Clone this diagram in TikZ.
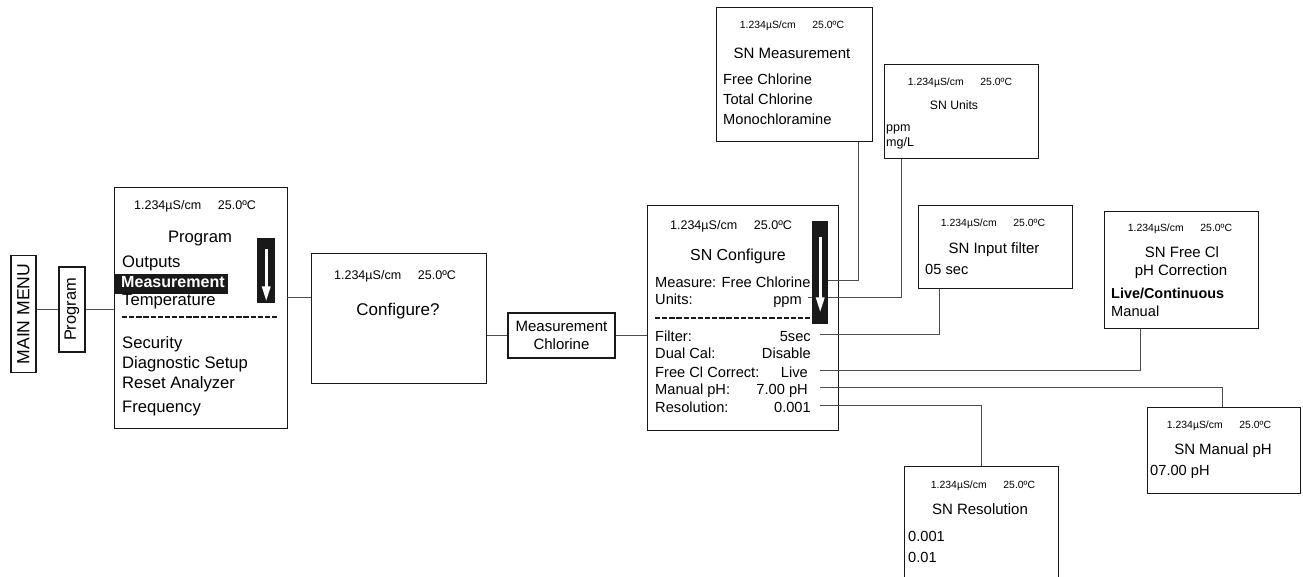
\documentclass[tikz,border=0pt]{standalone}
\usepackage{fontspec}
\setmainfont{Liberation Sans}
\usetikzlibrary{arrows.meta,calc}

\newcommand{\rdg}{1.234µS/cm\hspace{0.5cm}25.0ºC}

\begin{document}
\begin{tikzpicture}[x=0.03cm,y=-0.03cm,>=Stealth,
    screen/.style={draw=black!90,line width=1.1pt,inner sep=0pt,anchor=north west},
    tabbox/.style={draw=black!90,line width=1pt,inner sep=0pt,align=center},
    wire/.style={draw=black!70,line width=0.8pt},
    rdgL/.style={inner sep=0pt,anchor=base,font=\fontsize{10.7}{12}\selectfont},
    rdgS/.style={inner sep=0pt,anchor=base,font=\fontsize{8.9}{10}\selectfont},
    ttl/.style={inner sep=0pt,anchor=base,font=\fontsize{12.8}{15}\selectfont},
    itm/.style={inner sep=0pt,anchor=base west,text height=11pt,text depth=0pt,font=\fontsize{12.5}{15}\selectfont},
    val/.style={itm,anchor=base east},
    bigitm/.style={itm,font=\fontsize{14.2}{17}\selectfont},
    dashsep/.style={draw=black!90,line width=1.5pt,dash pattern=on 4.5pt off 1.6pt},
    scrollbar/.style={fill=black!90,inner sep=0pt,anchor=north west},
    scrollarrow/.style={draw=white,line width=2.6pt,-{Triangle[length=12.8pt,width=6.8pt]}}]
\useasboundingbox (0,0) rectangle (1303,576);

% === Left: menu tabs ===
\node[tabbox,rotate=90,minimum width=3.51cm,minimum height=0.75cm,font=\fontsize{15}{18}\selectfont] (mainmenu) at (23.5,314) {MAIN MENU};
\node[tabbox,rotate=90,minimum width=2.55cm,minimum height=0.78cm,font=\fontsize{14}{17}\selectfont] (progtab) at (72,309.5) {Program};

% === Program screen ===
\begin{scope}[shift={(114,187)}]
    \node[screen,minimum width=5.19cm,minimum height=7.23cm] (prog) at (0,0) {};
    \node[rdgL] (prog-rdg) at (81,22) {\rdg};
    \node[ttl,font=\fontsize{14.2}{17}\selectfont] (prog-ttl) at (86,55) {Program};
    \node[bigitm] (prog-out) at (8,80) {Outputs};
    \fill[black!90] (0,87) rectangle (114,107);
    \node[bigitm,white,font=\fontsize{13.7}{16}\selectfont\bfseries] (prog-meas) at (7,100) {Measurement};
    \node[bigitm] (prog-temp) at (8,118) {Temperature};
    \draw[dashsep] (8,130) -- (163,130);
    \node[bigitm] (prog-sec) at (8,161) {Security};
    \node[bigitm] (prog-diag) at (8,181) {Diagnostic Setup};
    \node[bigitm] (prog-reset) at (8,201) {Reset Analyzer};
    \node[bigitm] (prog-freq) at (8,225) {Frequency};
    \coordinate (prog-exit) at (173,110);
\end{scope}

% === Configure? screen ===
\begin{scope}[shift={(311,253)}]
    \node[screen,minimum width=5.25cm,minimum height=3.9cm] (cfgq) at (0,0) {};
    \node[rdgL] (cfgq-rdg) at (84,26) {\rdg};
    \node[ttl,font=\fontsize{14.5}{17}\selectfont] (cfgq-ttl) at (87,62) {Configure?};
\end{scope}

\node[tabbox,minimum width=3.21cm,minimum height=1.35cm,font=\fontsize{12.8}{15.4}\selectfont] (mchl) at (561.5,335.5) {Measurement\\Chlorine};

% === SN Configure screen ===
\begin{scope}[shift={(647,205)}]
    \node[screen,minimum width=5.73cm,minimum height=6.75cm] (sncfg) at (0,0) {};
    \node[rdgL] (cfg-rdg) at (84,24) {\rdg};
    \node[ttl,font=\fontsize{13.6}{16}\selectfont] (cfg-ttl) at (91,55) {SN Configure};
    \node[itm] (cfg-meas) at (8,82) {Measure: Free Chlorine};
    \node[itm] (cfg-units) at (8,99) {Units:};
    \node[val] (cfg-units-v) at (155,99) {ppm};
    \draw[dashsep] (8,113) -- (171,113);
    \node[itm] (cfg-filt) at (8,136) {Filter:};
    \node[val] (cfg-filt-v) at (164,136) {5sec};
    \node[itm] (cfg-dual) at (8,153) {Dual Cal:};
    \node[val] (cfg-dual-v) at (164,153) {Disable};
    \node[itm] (cfg-fcl) at (8,172) {Free Cl Correct:};
    \node[val] (cfg-fcl-v) at (161,172) {Live};
    \node[itm] (cfg-ph) at (8,189) {Manual pH:};
    \node[val] (cfg-ph-v) at (161,189) {7.00 pH};
    \node[itm] (cfg-res) at (8,207) {Resolution:};
    \node[val] (cfg-res-v) at (164,207) {0.001};
    \coordinate (cfg-x) at (173,0);
\end{scope}

% === SN sub screens ===
\begin{scope}[shift={(716,7)}]
    \node[screen,minimum width=4.68cm,minimum height=4.02cm] (snmeas) at (0,0) {};
    \node[rdgS] (snmeas-rdg) at (76,21) {\rdg};
    \node[ttl] (snmeas-ttl) at (76,51) {SN Measurement};
    \node[itm] (snmeas-a) at (7,77) {Free Chlorine};
    \node[itm] (snmeas-b) at (7,97) {Total Chlorine};
    \node[itm] (snmeas-c) at (7,117) {Monochloramine};
\end{scope}

\begin{scope}[shift={(884,64)}]
    \node[screen,minimum width=4.62cm,minimum height=2.82cm] (snunits) at (0,0) {};
    \node[rdgS] (snunits-rdg) at (76,21) {\rdg};
    \node[ttl,font=\fontsize{10.4}{12}\selectfont] (snunits-ttl) at (70,45) {SN Units};
    \node[itm,font=\fontsize{10.7}{12}\selectfont] (snunits-a) at (2,67) {ppm};
    \node[itm,font=\fontsize{10.7}{12}\selectfont] (snunits-b) at (2,82) {mg/L};
\end{scope}

\begin{scope}[shift={(918,205)}]
    \node[screen,minimum width=4.62cm,minimum height=2.49cm] (snfilt) at (0,0) {};
    \node[rdgS] (snfilt-rdg) at (75,21) {\rdg};
    \node[ttl] (snfilt-ttl) at (76,48) {SN Input filter};
    \node[itm] (snfilt-a) at (7,69) {05 sec};
\end{scope}

\begin{scope}[shift={(1104,211)}]
    \node[screen,minimum width=4.62cm,minimum height=3.51cm] (snfcl) at (0,0) {};
    \node[rdgS] (snfcl-rdg) at (76,20) {\rdg};
    \node[ttl] (snfcl-ttl) at (78,46) {SN Free Cl};
    \node[ttl] (snfcl-ttl2) at (77,64) {pH Correction};
    \node[itm,font=\fontsize{12.3}{15}\selectfont\bfseries] (snfcl-a) at (7,87) {Live/Continuous};
    \node[itm] (snfcl-b) at (7,105) {Manual};
\end{scope}

\begin{scope}[shift={(1147,407)}]
    \node[screen,minimum width=4.59cm,minimum height=2.58cm] (snph) at (0,0) {};
    \node[rdgS] (snph-rdg) at (72,21) {\rdg};
    \node[ttl] (snph-ttl) at (76,47) {SN Manual pH};
    \node[itm] (snph-a) at (3,68) {07.00 pH};
\end{scope}

\begin{scope}[shift={(904,466)}]
    \node[screen,minimum width=4.62cm,minimum height=3.9cm] (snres) at (0,0) {};
    \node[rdgS] (snres-rdg) at (79,22) {\rdg};
    \node[ttl] (snres-ttl) at (76,48) {SN Resolution};
    \node[itm] (snres-a) at (4,75) {0.001};
    \node[itm] (snres-b) at (4,96) {0.01};
\end{scope}

% --- links between screens
\draw[wire] (mainmenu.south |- progtab.center) -- (progtab.north);
\draw[wire] (progtab.south) -- (progtab.south -| prog.west);
\draw[wire] (prog-exit) -- (prog-exit -| cfgq.west);
\draw[wire] (cfgq.east |- mchl.west) -- (mchl.west);
\draw[wire] (mchl.east) -- (mchl.east -| sncfg.west);

\draw[wire] (cfg-x |- cfg-meas.east) -| ($(snmeas.south east)+(-15,0)$);
\draw[wire] ([xshift=5pt]cfg-units-v.east) -| ($(snunits.south west)+(17,0)$);
\draw[wire] (cfg-x |- cfg-filt-v.east) -| ($(snfilt.south west)+(21,0)$);
\draw[wire] (cfg-x |- cfg-fcl-v.east) -| ($(snfcl.south west)+(36,0)$);
\draw[wire] (cfg-x |- cfg-ph-v.east) -| ($(snph.north west)+(75,0)$);
\draw[wire] (cfg-x |- cfg-res-v.east) -| ($(snres.north west)+(77,0)$);

% --- scroll arrows
\node[scrollbar,minimum width=0.54cm,minimum height=1.95cm] (progbar) at (257,238) {};
\draw[scrollarrow] ($(progbar.north)+(0,11)$) -- ($(progbar.south)+(0,-2)$);
\node[scrollbar,minimum width=0.48cm,minimum height=3.09cm] (cfgbar) at (812,221) {};
\draw[scrollarrow] ($(cfgbar.north)+(0,16)$) -- ($(cfgbar.south)+(0,-12)$);
\end{tikzpicture}
\end{document}
